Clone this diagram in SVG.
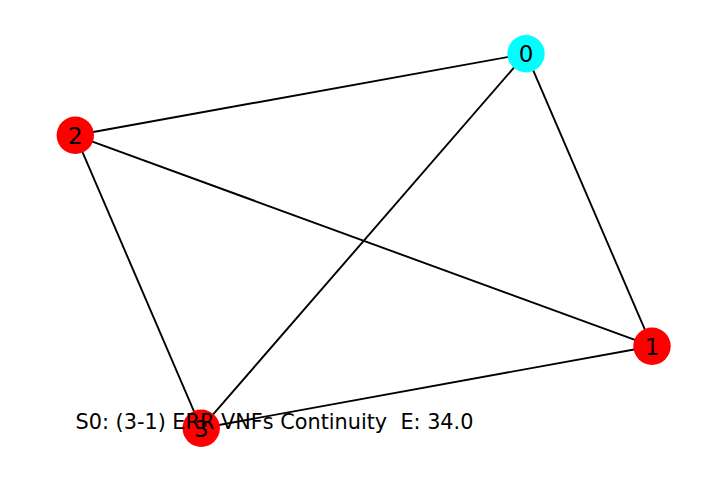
<svg xmlns="http://www.w3.org/2000/svg" width="727" height="483" viewBox="0 0 727 483">
<style>
.edge{stroke:#000;stroke-width:1.9;fill:none}
.node circle{stroke:none}
.red{fill:#ff0000}
.cyan{fill:#00ffff}
.lbl{font-family:"DejaVu Sans",sans-serif;font-size:23px;fill:#000;text-anchor:middle}
.cap{font-family:"DejaVu Sans",sans-serif;font-size:20.8px;fill:#000;white-space:pre}
</style>
<rect width="727" height="483" fill="#fff"/>
<g id="edges">
<line class="edge" x1="526" y1="53.7" x2="75.3" y2="135.3"/>
<line class="edge" x1="526" y1="53.7" x2="201.2" y2="428.2"/>
<line class="edge" x1="526" y1="53.7" x2="652" y2="346.2"/>
<line class="edge" x1="75.3" y1="135.3" x2="652" y2="346.2"/>
<line class="edge" x1="75.3" y1="135.3" x2="201.2" y2="428.2"/>
<line class="edge" x1="201.2" y1="428.2" x2="652" y2="346.2"/>
</g>
<g id="node0" class="node"><circle class="cyan" cx="526" cy="53.7" r="18.7"/><text class="lbl" x="526" y="62">0</text></g>
<g id="node1" class="node"><circle class="red" cx="652" cy="346.2" r="18.7"/><text class="lbl" x="652" y="354.5">1</text></g>
<g id="node2" class="node"><circle class="red" cx="75.3" cy="135.3" r="18.7"/><text class="lbl" x="75.3" y="143.6">2</text></g>
<g id="node3" class="node"><circle class="red" cx="201.2" cy="428.2" r="18.7"/><text class="lbl" x="201.2" y="436.5">3</text></g>
<text class="cap" x="75.5" y="429.3" xml:space="preserve">S0: (3-1) ERR VNFs Continuity  E: 34.0</text>
</svg>
